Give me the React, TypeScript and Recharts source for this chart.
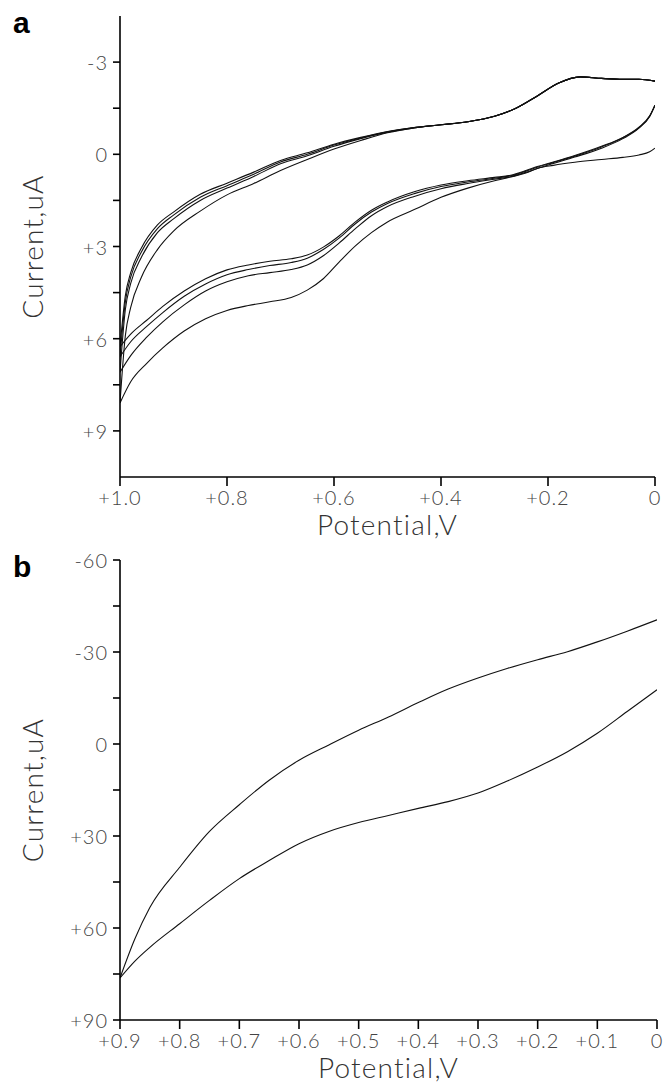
import React from 'react';
import { LineChart, Line, XAxis, YAxis } from 'recharts';

const FONT = 'Lato, "Open Sans", "DejaVu Sans", sans-serif';

// ---- panel a : repeated cycles, potential (V) vs current (uA)
const potentialUpA = [0, 0.03, 0.06, 0.1, 0.14, 0.18, 0.22, 0.26, 0.3, 0.35, 0.4, 0.45, 0.5, 0.55, 0.6, 0.65, 0.7, 0.75, 0.8, 0.85, 0.9, 0.93, 0.96, 0.98, 0.99, 1.0];
const upCycle1 = [-2.38, -2.44, -2.44, -2.47, -2.52, -2.32, -1.9, -1.5, -1.24, -1.06, -0.96, -0.86, -0.7, -0.45, -0.17, 0.17, 0.53, 0.95, 1.32, 1.85, 2.5, 3.1, 4.0, 4.98, 5.9, 8.09];
const upCycle2 = [-2.38, -2.44, -2.44, -2.47, -2.52, -2.32, -1.9, -1.5, -1.24, -1.06, -0.96, -0.86, -0.72, -0.51, -0.26, 0.05, 0.31, 0.72, 1.1, 1.5, 2.1, 2.55, 3.35, 4.2, 5.05, 7.09];
const upCycle3 = [-2.38, -2.44, -2.44, -2.47, -2.52, -2.32, -1.9, -1.5, -1.24, -1.06, -0.96, -0.87, -0.73, -0.53, -0.3, 0.0, 0.25, 0.65, 1.02, 1.4, 1.98, 2.42, 3.18, 4.0, 4.8, 6.59];
const upCycle4 = [-2.38, -2.44, -2.44, -2.47, -2.52, -2.32, -1.9, -1.5, -1.24, -1.06, -0.96, -0.87, -0.74, -0.55, -0.33, -0.05, 0.2, 0.58, 0.94, 1.3, 1.88, 2.3, 3.05, 3.85, 4.6, 6.26];

const potentialDownA = [0, 0.01, 0.03, 0.06, 0.1, 0.15, 0.19, 0.22, 0.24, 0.27, 0.3, 0.35, 0.4, 0.45, 0.5, 0.53, 0.56, 0.59, 0.62, 0.65, 0.68, 0.72, 0.76, 0.8, 0.84, 0.88, 0.92, 0.95, 0.98, 1.0];
const downCycle1 = [-0.2, -0.08, 0.02, 0.1, 0.17, 0.26, 0.36, 0.46, 0.6, 0.74, 0.86, 1.1, 1.4, 1.8, 2.2, 2.55, 2.98, 3.5, 4.05, 4.42, 4.66, 4.8, 4.92, 5.08, 5.35, 5.75, 6.3, 6.8, 7.4, 8.09];
const downCycle2 = [-1.6, -1.23, -0.85, -0.51, -0.2, 0.09, 0.3, 0.46, 0.58, 0.73, 0.81, 0.95, 1.12, 1.37, 1.7, 2.0, 2.42, 2.88, 3.3, 3.6, 3.75, 3.85, 3.95, 4.15, 4.45, 4.9, 5.45, 5.95, 6.55, 7.09];
const downCycle3 = [-1.6, -1.24, -0.87, -0.54, -0.24, 0.06, 0.27, 0.42, 0.54, 0.7, 0.78, 0.9, 1.05, 1.28, 1.6, 1.88, 2.26, 2.72, 3.1, 3.38, 3.52, 3.62, 3.75, 3.92, 4.22, 4.62, 5.15, 5.6, 6.1, 6.59];
const downCycle4 = [-1.6, -1.25, -0.88, -0.55, -0.26, 0.04, 0.25, 0.4, 0.52, 0.68, 0.75, 0.86, 1.0, 1.22, 1.55, 1.82, 2.2, 2.65, 3.02, 3.28, 3.4, 3.48, 3.6, 3.76, 4.05, 4.45, 4.95, 5.4, 5.85, 6.26];

const xTicksA = [0, 0.2, 0.4, 0.6, 0.8, 1.0];
const xTopTicksA = [0.2, 0.4, 0.6, 0.8];
const yTicksA = [-3, -1.5, 0, 1.5, 3, 4.5, 6, 7.5, 9];

// ---- panel b : single cycle
const potentialB = [0, 0.05, 0.1, 0.15, 0.2, 0.25, 0.3, 0.35, 0.4, 0.45, 0.5, 0.55, 0.6, 0.65, 0.7, 0.75, 0.8, 0.85, 0.875, 0.9];
const upperB = [-40.5, -36.8, -33.3, -30.1, -27.5, -24.7, -21.5, -17.9, -13.5, -8.8, -4.5, 0.3, 5.3, 11.8, 19.8, 28.5, 40.2, 53.3, 63.5, 76.3];
const lowerB = [-17.7, -10.6, -3.5, 2.5, 7.5, 12.0, 16.0, 18.8, 21.0, 23.3, 25.6, 28.5, 32.5, 38.0, 43.9, 51.0, 58.6, 66.3, 70.8, 76.3];

const xTicksB = [0, 0.1, 0.2, 0.3, 0.4, 0.5, 0.6, 0.7, 0.8, 0.9];
const yTicksB = [-60, -45, -30, -15, 0, 15, 30, 45, 60, 75, 90];

const toRows = (xs: number[], ys: number[]) => xs.map((v, i) => ({ v, cur: ys[i] }));

const seriesA = [
  toRows(potentialUpA, upCycle1), toRows(potentialUpA, upCycle2),
  toRows(potentialUpA, upCycle3), toRows(potentialUpA, upCycle4),
  toRows(potentialDownA, downCycle1), toRows(potentialDownA, downCycle2),
  toRows(potentialDownA, downCycle3), toRows(potentialDownA, downCycle4),
];
const seriesB = [toRows(potentialB, upperB), toRows(potentialB, lowerB)];

const frame = { stroke: '#000', strokeWidth: 1.6 };
const labelText = { fill: '#444', fontFamily: FONT, fontWeight: 300 } as const;

const fmtX = (v: number) => (v === 0 ? '0' : '+' + v.toFixed(1));
const fmtY = (step: number) => (v: number) => {
  if (Math.abs(v % step) > 1e-6) return '';
  if (v === 0) return '0';
  return v > 0 ? '+' + v : String(v);
};

// tick renderers so the font is fully under control
const xTick = (props: any) => (
  <text x={props.x} y={props.y} dy="0.85em" textAnchor="middle" fontSize={20} letterSpacing={1} {...labelText}>
    {fmtX(props.payload.value)}
  </text>
);
const yTick = (step: number) => (props: any) => (
  <text x={props.x} y={props.y} textAnchor="end" dominantBaseline="central" fontSize={20} letterSpacing={1} {...labelText}>
    {fmtY(step)(props.payload.value)}
  </text>
);

const yTitle = ({ viewBox }: any) => {
  const cx = 32;
  const cy = viewBox.y + viewBox.height / 2;
  return (
    <text x={cx} y={cy} transform={`rotate(-90 ${cx} ${cy})`} textAnchor="middle" dominantBaseline="central"
      fontSize={28} letterSpacing={1.2} {...labelText} fill="#333">Current,uA</text>
  );
};
const xTitle = ({ viewBox }: any) => {
  const cx = viewBox.x + viewBox.width / 2;
  return (
    <text x={cx} y={viewBox.y + 58} textAnchor="middle" fontSize={28} letterSpacing={1.2} {...labelText} fill="#333">
      Potential,V
    </text>
  );
};

const panelLetter: React.CSSProperties = {
  position: 'absolute', left: 13, fontFamily: '"Liberation Sans", Arial, sans-serif',
  fontWeight: 'bold', fontSize: 30, lineHeight: '30px', color: '#000',
};

export default function App() {
  return (
    <div style={{ position: 'fixed', left: 0, top: 0, width: 663, height: 1084, background: '#fff' }}>
      <div style={{ ...panelLetter, top: 8 }}>a</div>
      <div style={{ ...panelLetter, top: 552 }}>b</div>

      {/* panel a */}
      <div style={{ position: 'absolute', left: 0, top: 0 }}>
        <LineChart width={663} height={540} margin={{ top: 16, right: 8, bottom: 0, left: 0 }}>
          <XAxis type="number" dataKey="v" domain={[0, 1]} reversed ticks={xTicksA} interval={0}
            allowDataOverflow tick={xTick} tickSize={9} tickMargin={2}
            height={63} axisLine={frame} tickLine={frame} label={xTitle} />
          <XAxis xAxisId="top" orientation="top" type="number" dataKey="v" domain={[0, 1]} reversed
            ticks={xTopTicksA} interval={0} mirror height={0} tickSize={7} tickFormatter={() => ''}
            axisLine={frame} tickLine={frame} />
          <YAxis type="number" domain={[-4.5, 10.5]} reversed ticks={yTicksA} interval={0} allowDataOverflow
            tick={yTick(3)} tickSize={7} tickMargin={5} width={120}
            axisLine={frame} tickLine={frame} label={yTitle} />
          <YAxis yAxisId="right" orientation="right" type="number" domain={[-4.5, 10.5]} reversed
            width={0} tick={false} tickLine={false} axisLine={frame} />
          {seriesA.map((rows, i) => (
            <Line key={i} data={rows} dataKey="cur" type="monotone" stroke="#111" strokeWidth={1.1}
              dot={false} activeDot={false} isAnimationActive={false} />
          ))}
        </LineChart>
      </div>

      {/* panel b */}
      <div style={{ position: 'absolute', left: 0, top: 540 }}>
        <LineChart width={663} height={544} margin={{ top: 20, right: 6, bottom: 0, left: 0 }}>
          <XAxis type="number" dataKey="v" domain={[0, 0.9]} reversed ticks={xTicksB} interval={0}
            allowDataOverflow tick={xTick} tickSize={9} tickMargin={2}
            height={64} axisLine={frame} tickLine={frame} label={xTitle} />
          <XAxis xAxisId="top" orientation="top" type="number" dataKey="v" domain={[0, 0.9]} reversed
            height={0} tick={false} tickLine={false} axisLine={frame} />
          <YAxis type="number" domain={[-60, 90]} reversed ticks={yTicksB} interval={0} allowDataOverflow
            tick={yTick(30)} tickSize={7} tickMargin={5} width={120}
            axisLine={frame} tickLine={frame} label={yTitle} />
          <YAxis yAxisId="right" orientation="right" type="number" domain={[-60, 90]} reversed
            width={0} tick={false} tickLine={false} axisLine={frame} />
          {seriesB.map((rows, i) => (
            <Line key={i} data={rows} dataKey="cur" type="monotone" stroke="#111" strokeWidth={1.1}
              dot={false} activeDot={false} isAnimationActive={false} />
          ))}
        </LineChart>
      </div>
    </div>
  );
}
